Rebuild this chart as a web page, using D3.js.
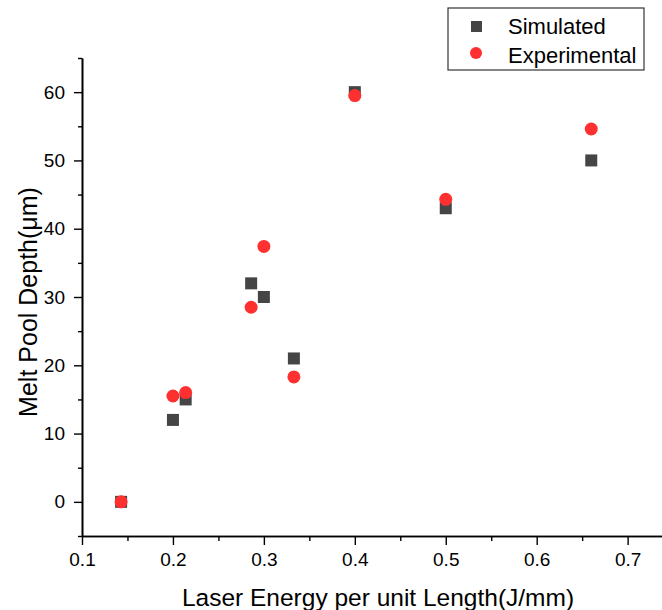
<!DOCTYPE html>
<html>
<head>
<meta charset="utf-8">
<script src="https://cdn.jsdelivr.net/npm/d3@7"></script>
<style>
  body { margin: 0; background: #fff; }
  svg text { font-family: "Liberation Sans", Arial, sans-serif; }
</style>
</head>
<body>
<div id="chart"></div>
<script>
// laser energy per unit length (J/mm)
var energy = [0.143, 0.2, 0.214, 0.286, 0.3, 0.333, 0.4, 0.5, 0.66];
// melt pool depth (um)
var simulated = [0, 12, 15, 32, 30, 21, 60, 43, 50];
var experimental = [0, 15.5, 16, 28.5, 37.4, 18.3, 59.5, 44.3, 54.6];

var xTicks = [0.1, 0.2, 0.3, 0.4, 0.5, 0.6, 0.7];
var yTicks = [0, 10, 20, 30, 40, 50, 60];
var seriesNames = ["Simulated", "Experimental"];

function init(){
  var w = 662, h = 610;

  var svg = d3.select("#chart").append("svg")
    .attr("width", w)
    .attr("height", h);

  var xScale = d3.scaleLinear().domain([0.1, 0.74]).range([82, 664]);
  var yScale = d3.scaleLinear().domain([-5, 65]).range([536, 58]);

  // minor ticks first
  var xMinor = d3.axisBottom(xScale)
    .tickValues([0.15, 0.25, 0.35, 0.45, 0.55, 0.65])
    .tickSize(5).tickSizeOuter(0).tickFormat("");
  var yMinor = d3.axisLeft(yScale)
    .tickValues([-5, 5, 15, 25, 35, 45, 55, 65])
    .tickSize(4).tickSizeOuter(0).tickFormat("");

  svg.append("g")
    .attr("transform", "translate(0," + yScale(-5) + ")")
    .call(xMinor);
  svg.append("g")
    .attr("transform", "translate(" + xScale(0.1) + ",0)")
    .call(yMinor);

  // major ticks + labels
  var xAxis = d3.axisBottom(xScale)
    .tickValues(xTicks).tickSize(9).tickSizeOuter(0).tickPadding(8)
    .tickFormat(d3.format(".1f"));
  var yAxis = d3.axisLeft(yScale)
    .tickValues(yTicks).tickSize(8).tickSizeOuter(0).tickPadding(9)
    .tickFormat(d3.format("d"));

  var gx = svg.append("g")
    .attr("transform", "translate(0," + yScale(-5) + ")")
    .call(xAxis);
  var gy = svg.append("g")
    .attr("transform", "translate(" + xScale(0.1) + ",0)")
    .call(yAxis);

  svg.selectAll(".domain").attr("stroke", "#000").attr("stroke-width", 1.6);
  svg.selectAll(".tick line").attr("stroke", "#000").attr("stroke-width", 1.4);
  gx.selectAll("text").attr("font-size", 19).attr("fill", "#000");
  gy.selectAll("text").attr("font-size", 19).attr("fill", "#000");

  // axis titles
  svg.append("text")
    .attr("x", 378)
    .attr("y", 606)
    .attr("text-anchor", "middle")
    .attr("font-size", 24.5)
    .text("Laser Energy per unit Length(J/mm)");

  svg.append("text")
    .attr("transform", "translate(37,302) rotate(-90)")
    .attr("text-anchor", "middle")
    .attr("font-size", 25)
    .text("Melt Pool Depth(\u03bcm)");

  // points
  var sq = 12;
  svg.selectAll("rect.sim")
    .data(energy)
    .enter()
    .append("rect")
    .attr("class", "sim")
    .attr("x", function(d){ return xScale(d) - sq / 2; })
    .attr("y", function(d, i){ return yScale(simulated[i]) - sq / 2; })
    .attr("width", sq)
    .attr("height", sq)
    .attr("fill", "#454545");

  svg.selectAll("circle.exp")
    .data(energy)
    .enter()
    .append("circle")
    .attr("class", "exp")
    .attr("cx", function(d){ return xScale(d); })
    .attr("cy", function(d, i){ return yScale(experimental[i]); })
    .attr("r", 6.5)
    .attr("fill", "#ff3030");

  // legend
  var lg = svg.append("g");
  lg.append("rect")
    .attr("x", 448).attr("y", 8)
    .attr("width", 196).attr("height", 62)
    .attr("fill", "#fff")
    .attr("stroke", "#333")
    .attr("stroke-width", 1.2);
  lg.append("rect")
    .attr("x", 471).attr("y", 21)
    .attr("width", 11).attr("height", 11)
    .attr("fill", "#454545");
  lg.append("circle")
    .attr("cx", 476).attr("cy", 53)
    .attr("r", 6)
    .attr("fill", "#ff3030");
  lg.selectAll("text.leg")
    .data(seriesNames)
    .enter()
    .append("text")
    .attr("class", "leg")
    .attr("x", 508)
    .attr("y", function(d, i){ return 34 + i * 29; })
    .attr("font-size", 22)
    .text(function(d){ return d; });
}

window.onload = init;
</script>
</body>
</html>
